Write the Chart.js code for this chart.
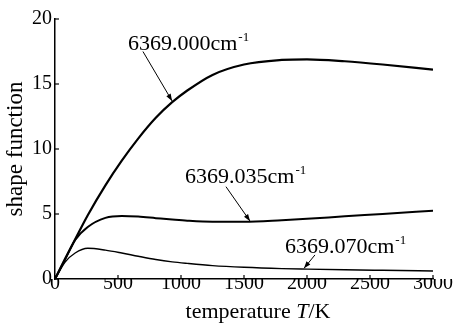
<!DOCTYPE html>
<html><head><meta charset="utf-8">
<script src="https://cdn.jsdelivr.net/npm/chart.js@4.4.1/dist/chart.umd.min.js"></script>
<style>html,body{margin:0;padding:0;background:#fff}#wrap{width:455px;height:324px}</style>
</head><body><div id="wrap"><canvas id="c"></canvas></div>
<script>
// Temperature (K)
const temperatures = [0, 80, 160, 260, 400, 530, 660, 800, 930, 1050, 1250, 1500, 1800, 2000, 2300, 2600, 3000];
// shape function values for each wavenumber
const shape6369_000 = [0, 1.55, 3.05, 4.9, 7.2, 9.1, 10.8, 12.4, 13.6, 14.5, 15.7, 16.5, 16.85, 16.9, 16.75, 16.5, 16.1];
const shape6369_035 = [0, 1.5, 3.0, 4.0, 4.7, 4.85, 4.8, 4.68, 4.57, 4.48, 4.4, 4.4, 4.52, 4.63, 4.82, 5.0, 5.25];
const shape6369_070 = [0, 1.3, 2.0, 2.36, 2.22, 2.0, 1.75, 1.5, 1.32, 1.2, 1.03, 0.9, 0.8, 0.76, 0.71, 0.67, 0.62];
const xTickValues = [0, 500, 1000, 1500, 2000, 2500, 3000];
const yTickValues = [0, 5, 10, 15, 20];
const seriesLabels = ['6369.000cm', '6369.035cm', '6369.070cm'];
const xAxisTitle = ['temperature ', 'T', '/K'];
const yAxisTitle = 'shape function';
// label anchors in data units: text position (T, value), arrow tail, arrow tip
const labelTextT = [579, 1032, 1825];
const labelTextV = [17.6, 7.4, 2.0];
const arrowTailT = [698, 1357, 2063];
const arrowTailV = [17.5, 7.1, 1.85];
const arrowTipT = [929, 1548, 1976];
const arrowTipV = [13.7, 4.45, 0.82];

const SERIF = "'Liberation Serif', 'Times New Roman', serif";

function pts(ys) { return temperatures.map((t, i) => ({x: t, y: ys[i]})); }

const extras = {
  id: 'extras',
  afterDraw(chart) {
    const ctx = chart.ctx;
    const xs = chart.scales.x, ys = chart.scales.y;
    const ca = chart.chartArea;
    ctx.save();
    ctx.strokeStyle = '#000';
    ctx.fillStyle = '#000';
    ctx.lineWidth = 1.2;
    // inside tick marks
    xTickValues.forEach(v => {
      const px = xs.getPixelForValue(v);
      ctx.beginPath(); ctx.moveTo(px, ca.bottom); ctx.lineTo(px, ca.bottom - 4); ctx.stroke();
    });
    yTickValues.forEach(v => {
      const py = ys.getPixelForValue(v);
      ctx.beginPath(); ctx.moveTo(ca.left, py); ctx.lineTo(ca.left + 4, py); ctx.stroke();
    });
    // x axis title with italic T
    ctx.textBaseline = 'alphabetic';
    ctx.textAlign = 'left';
    const fN = '22px ' + SERIF, fI = 'italic 22px ' + SERIF;
    ctx.font = fN; const w0 = ctx.measureText(xAxisTitle[0]).width;
    ctx.font = fI; const w1 = ctx.measureText(xAxisTitle[1]).width;
    ctx.font = fN; const w2 = ctx.measureText(xAxisTitle[2]).width;
    const total = w0 + w1 + w2;
    let tx = (ca.left + ca.right) / 2 + 14 - total / 2;
    const ty = 318;
    ctx.font = fN; ctx.fillText(xAxisTitle[0], tx, ty); tx += w0;
    ctx.font = fI; ctx.fillText(xAxisTitle[1], tx, ty); tx += w1;
    ctx.font = fN; ctx.fillText(xAxisTitle[2], tx, ty);
    // annotations
    for (let i = 0; i < seriesLabels.length; i++) {
      const lx = xs.getPixelForValue(labelTextT[i]);
      const ly = ys.getPixelForValue(labelTextV[i]);
      ctx.font = '22px ' + SERIF;
      ctx.fillText(seriesLabels[i], lx, ly);
      const lw = ctx.measureText(seriesLabels[i]).width;
      ctx.font = '13px ' + SERIF;
      ctx.fillText('-1', lx + lw + 1, ly - 9);
      const ax = xs.getPixelForValue(arrowTailT[i]), ay = ys.getPixelForValue(arrowTailV[i]);
      const bx = xs.getPixelForValue(arrowTipT[i]), by = ys.getPixelForValue(arrowTipV[i]);
      ctx.lineWidth = 1;
      ctx.beginPath(); ctx.moveTo(ax, ay); ctx.lineTo(bx, by); ctx.stroke();
      const ang = Math.atan2(by - ay, bx - ax);
      const L = 7, W = 2.5;
      ctx.beginPath();
      ctx.moveTo(bx, by);
      ctx.lineTo(bx - L * Math.cos(ang) + W * Math.sin(ang), by - L * Math.sin(ang) - W * Math.cos(ang));
      ctx.lineTo(bx - L * Math.cos(ang) - W * Math.sin(ang), by - L * Math.sin(ang) + W * Math.cos(ang));
      ctx.closePath(); ctx.fill();
    }
    ctx.restore();
  }
};

new Chart(document.getElementById('c'), {
  type: 'line',
  data: {
    datasets: [
      {label: seriesLabels[0], data: pts(shape6369_000), borderColor: '#000', borderWidth: 2.2},
      {label: seriesLabels[1], data: pts(shape6369_035), borderColor: '#000', borderWidth: 2.0},
      {label: seriesLabels[2], data: pts(shape6369_070), borderColor: '#000', borderWidth: 1.4}
    ]
  },
  options: {
    responsive: true,
    maintainAspectRatio: false,
    animation: false,
    layout: {padding: {top: 19, right: 22, bottom: 0, left: 0}},
    elements: {point: {radius: 0}, line: {cubicInterpolationMode: 'monotone', fill: false}},
    plugins: {legend: {display: false}, tooltip: {enabled: false}},
    scales: {
      x: {
        type: 'linear', min: 0, max: 3000,
        afterFit(s) { s.height = 45; },
        afterBuildTicks(s) { s.ticks = xTickValues.map(v => ({value: v})); },
        grid: {display: false, drawTicks: false},
        border: {display: true, color: '#000', width: 1.5},
        ticks: {color: '#000', font: {family: SERIF, size: 20}, padding: -7, maxRotation: 0, autoSkip: false,
                callback: v => String(v)}
      },
      y: {
        type: 'linear', min: 0, max: 20,
        afterFit(s) { s.width = 55; },
        afterBuildTicks(s) { s.ticks = yTickValues.map(v => ({value: v})); },
        grid: {display: false, drawTicks: false},
        border: {display: true, color: '#000', width: 1.5},
        ticks: {color: '#000', font: {family: SERIF, size: 20}, padding: 3, callback: v => String(v)},
        title: {display: true, text: yAxisTitle, color: '#000', font: {family: SERIF, size: 23}, padding: {top: 2, bottom: 0}}
      }
    }
  },
  plugins: [extras]
});
</script></body></html>
